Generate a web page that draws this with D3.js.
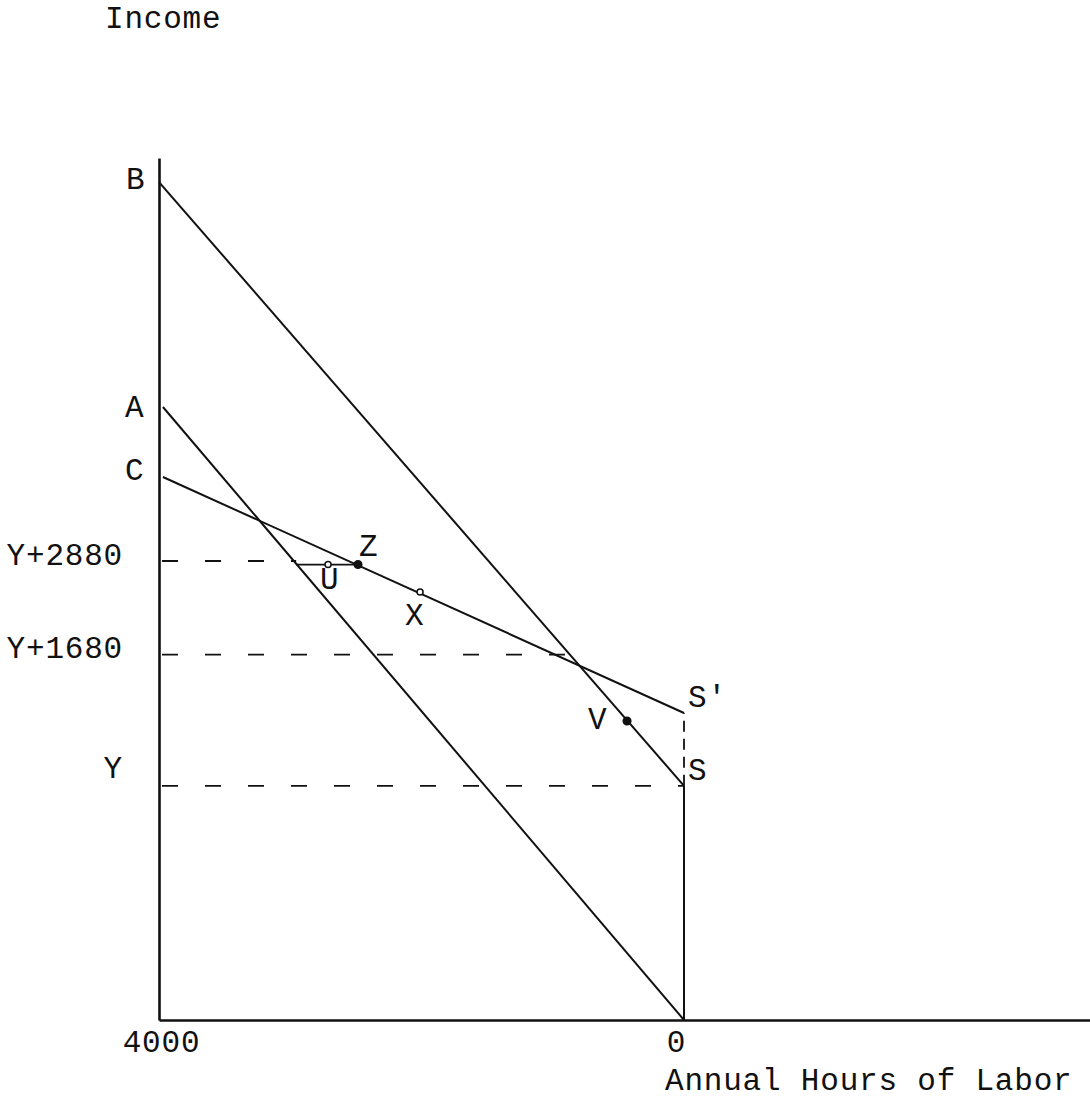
<!DOCTYPE html>
<html>
<head>
<meta charset="utf-8">
<script src="https://cdn.jsdelivr.net/npm/d3@7"></script>
<style>
  html, body { margin: 0; padding: 0; background: #fff; }
  svg { display: block; }
  text { font-family: "Liberation Mono", "Courier New", monospace; fill: #111; }
</style>
</head>
<body>
<svg id="chart" width="1090" height="1112"></svg>
<script>
// ---------------- DATA ----------------
const hoursTicks = [4000, 0];
const hoursTickLabels = ["4000", "0"];
const incomeTicks = [3000, 4680, 5880];            // Y, Y+1680, Y+2880 (Y taken as 3000)
const incomeTickLabels = ["Y", "Y+1680", "Y+2880"];
const incomeMax = 11043;

// budget lines: [hours, income]
const lineNames = ["A", "B", "C"];
const lineAHours = [3970, 0];      const lineAIncome = [7853, 0];
const lineBHours = [4000, 0];      const lineBIncome = [10735, 3000];
const lineCHours = [3970, 0];      const lineCIncome = [6956, 3933];

// marked points
const pointNames = ["Z", "U", "X", "V"];
const pointHours = [2484, 2712, 2011, 434];
const pointIncome = [5835, 5835, 5483, 3830];
const pointFilled = [true, false, false, true];

// short horizontal segment from line A to Z
const segHours = [2955, 2484];
const segIncome = [5835, 5835];

// dashed reference levels: income level and hours extent
const refIncome = [5880, 4680, 3000];
const refHoursFrom = [4000, 4000, 4000];
const refHoursTo = [2955, 808, 0];

// endpoints at zero hours
const endNames = ["S", "S'"];
const endHours = [0, 0];
const endIncome = [3000, 3933];

const xTitle = "Annual Hours of Labor";
const yTitle = "Income";

// ---------------- DRAW ----------------
const W = 1090, H = 1112;
const svg = d3.select("#chart");

const x = d3.scaleLinear().domain([4000, 0]).range([159, 684]);
const y = d3.scaleLinear().domain([0, incomeMax]).range([1020, 158]);
const xAxisScale = x.copy().domain([4000, x.invert(W)]).range([159, W]);

const FS = 31, LS = 0.8;
const SW = 2;

// axes
const gx = svg.append("g").attr("transform", `translate(0,${y(0)})`)
  .call(d3.axisBottom(xAxisScale).tickValues(hoursTicks)
        .tickFormat((d, i) => hoursTickLabels[i]).tickSize(0).tickSizeOuter(0).tickPadding(10));
gx.select(".domain").attr("stroke", "#111").attr("stroke-width", 2.4);
gx.selectAll(".tick text").attr("font-size", FS).attr("font-family", "Liberation Mono")
  .attr("fill", "#111").style("letter-spacing", LS + "px")
  .attr("dx", (d) => d === 0 ? -8 : 2);

const gy = svg.append("g").attr("transform", `translate(${x(4000)},0)`)
  .call(d3.axisLeft(y).tickValues(incomeTicks)
        .tickFormat((d, i) => incomeTickLabels[i]).tickSize(0).tickSizeOuter(0).tickPadding(36));
gy.select(".domain").attr("stroke", "#111").attr("stroke-width", 2.6);
gy.selectAll(".tick text").attr("font-size", FS).attr("font-family", "Liberation Mono")
  .attr("fill", "#111").style("letter-spacing", LS + "px")
  .attr("dy", (d) => d === 3000 ? "-0.26em" : "0.1em");

// dashed reference lines
refIncome.forEach((v, i) => {
  svg.append("line")
    .attr("x1", x(refHoursFrom[i]) + 3).attr("x2", x(refHoursTo[i]))
    .attr("y1", y(v)).attr("y2", y(v))
    .attr("stroke", "#111").attr("stroke-width", 1.8)
    .attr("stroke-dasharray", "16,27");
});

// vertical at 0 hours: solid up to S, dashed S to S'
svg.append("line").attr("x1", x(0)).attr("x2", x(0))
  .attr("y1", y(0)).attr("y2", y(endIncome[0]))
  .attr("stroke", "#111").attr("stroke-width", SW);
svg.append("line").attr("x1", x(0)).attr("x2", x(0))
  .attr("y1", y(endIncome[0])).attr("y2", y(endIncome[1]))
  .attr("stroke", "#111").attr("stroke-width", 1.8).attr("stroke-dasharray", "11,7");

// budget lines
const lineGen = d3.line().x(d => x(d[0])).y(d => y(d[1]));
[[lineAHours, lineAIncome], [lineBHours, lineBIncome], [lineCHours, lineCIncome]].forEach(([hs, vs]) => {
  svg.append("path").datum(hs.map((h, i) => [h, vs[i]]))
    .attr("d", lineGen).attr("fill", "none")
    .attr("stroke", "#111").attr("stroke-width", SW);
});

// segment U-Z
svg.append("path").datum(segHours.map((h, i) => [h, segIncome[i]]))
  .attr("d", lineGen).attr("fill", "none").attr("stroke", "#111").attr("stroke-width", 1.8);

// points
pointNames.forEach((n, i) => {
  svg.append("circle").attr("cx", x(pointHours[i])).attr("cy", y(pointIncome[i]))
    .attr("r", pointFilled[i] ? 3.8 : 3)
    .attr("fill", pointFilled[i] ? "#111" : "#fff")
    .attr("stroke", "#111").attr("stroke-width", 1.5);
});

// labels (layout offsets)
function label(txt, px, py, dx, dy) {
  svg.append("text").attr("x", px + dx).attr("y", py + dy)
    .attr("font-size", FS).style("letter-spacing", LS + "px").text(txt);
}
const pointLabelOffsets = { Z: [1, -9], U: [-8, 24], X: [-15, 33], V: [-39, 8] };
pointNames.forEach((n, i) => {
  const o = pointLabelOffsets[n];
  label(n, x(pointHours[i]), y(pointIncome[i]), o[0], o[1]);
});
const lineLabelOffsets = { A: [-38, 10], B: [-33, 7], C: [-38, 3] };
label("A", x(lineAHours[0]), y(lineAIncome[0]), ...lineLabelOffsets.A);
label("B", x(lineBHours[0]), y(lineBIncome[0]), ...lineLabelOffsets.B);
label("C", x(lineCHours[0]), y(lineCIncome[0]), ...lineLabelOffsets.C);
endNames.forEach((n, i) => label(n, x(endHours[i]), y(endIncome[i]), 4, -6));

// titles
svg.append("text").attr("x", 105).attr("y", 28).attr("font-size", FS)
  .style("letter-spacing", LS + "px").text(yTitle);
svg.append("text").attr("x", 665).attr("y", 1090).attr("font-size", FS)
  .style("letter-spacing", LS + "px").text(xTitle);
</script>
</body>
</html>
